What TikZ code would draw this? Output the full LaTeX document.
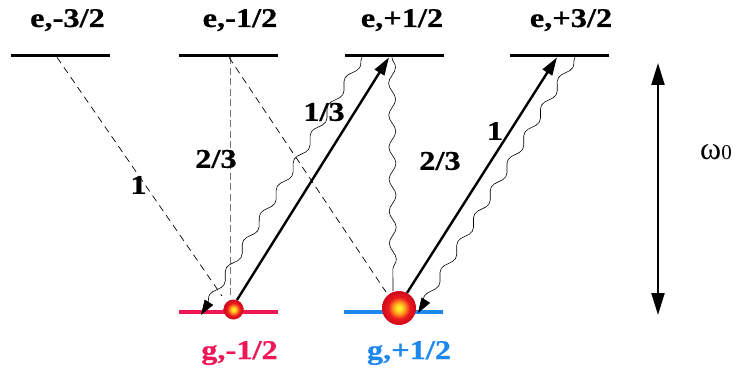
\documentclass[tikz,border=0pt]{standalone}
\usepackage{fontspec}
\setmainfont{Liberation Serif}[BoldFeatures={FakeBold=0.6}]
\usetikzlibrary{arrows.meta,decorations.pathmorphing}
\definecolor{gred}{RGB}{238,24,86}
\definecolor{gblue}{RGB}{30,136,238}
\definecolor{sphY}{RGB}{255,236,40}
\definecolor{sphO}{RGB}{255,150,30}
\definecolor{sphR}{RGB}{235,25,30}
\definecolor{sphD}{RGB}{210,12,28}
\pgfdeclareradialshading{sph}{\pgfpoint{0bp}{0bp}}{color(0bp)=(sphY); color(3bp)=(sphY); color(9bp)=(sphO); color(16bp)=(sphR); color(23bp)=(sphD); color(50bp)=(sphD)}
\newcommand{\lblx}[1]{\scalebox{1.2}[1]{#1}}
\tikzset{
  elev/.style={fill=black, minimum width=99pt, minimum height=3.3pt, inner sep=0pt},
  glev/.style={minimum width=99pt, minimum height=3.2pt, inner sep=0pt},
  lab/.style={inner sep=0pt, font=\fontsize{27}{31}\selectfont\bfseries},
  frac/.style={inner sep=0pt, font=\fontsize{27}{31}\selectfont\bfseries},
  ball/.style={circle, inner sep=0pt, shading=sph},
  pump/.style={line width=2.4pt, -{Triangle[length=18pt,width=11pt]}},
  dsh/.style={line width=0.7pt, dash pattern=on 7pt off 5pt},
  vdsh/.style={line width=0.8pt, draw=black!55, dash pattern=on 7pt off 3.5pt},
  wave/.style={line width=0.6pt, decorate, decoration={snake, amplitude=3.5pt, segment length=32pt, post length=6pt}},
  wavearr/.style={wave, -{Triangle[length=15pt,width=10pt]}},
}
\begin{document}
\begin{tikzpicture}[x=1pt,y=-1pt]
\useasboundingbox (0,0) rectangle (741,374);
% upper levels
\node[elev] (em32) at (60.5,55.5) {};
\node[elev] (em12) at (228,55.5) {};
\node[elev] (ep12) at (394,55.5) {};
\node[elev] (ep32) at (559.5,55.5) {};
% lower levels
\node[glev, fill=gred] (gm12) at (228,312) {};
\node[glev, fill=gblue] (gp12) at (393.5,312) {};
% level labels
\node[lab, anchor=base] (tem32) at (67.5,27) {\lblx{e,-3/2}};
\node[lab, anchor=base] (tem12) at (240,27) {\lblx{e,-1/2}};
\node[lab, anchor=base] (tep12) at (402,27) {\lblx{e,+1/2}};
\node[lab, anchor=base] (tep32) at (571,27) {\lblx{e,+3/2}};
\node[lab, anchor=base, text=gred] (tgm12) at (239.5,359) {\lblx{g,-1/2}};
\node[lab, anchor=base, text=gblue] (tgp12) at (409,359) {\lblx{g,+1/2}};
% dashed decay lines
\draw[dsh] ([xshift=-3.5pt]em32.south) -- (222,296);
\draw[vdsh] ([xshift=2pt]em12.south) -- (230,298);
\draw[dsh] ([xshift=1pt]em12.south) -- (386,292);
% spheres
\node[ball, minimum size=20pt] (ss) at (233.5,309.5) {};
\node[ball, minimum size=34pt] (bs) at (399,308) {};
% spontaneous emission (wavy)
\draw[wavearr] ([xshift=-32pt]ep12.south) -- ([xshift=-27pt,yshift=-3pt]gm12.center);
\draw[wave] ([xshift=-2pt]ep12.south) -- ([xshift=-6pt]bs.north);
\draw[wavearr] ([xshift=15.5pt]ep32.south) -- ([xshift=24.5pt,yshift=-1pt]gp12.center);
% pump transitions
\draw[pump] (ss.70) -- ([xshift=-5pt]ep12.south);
\draw[pump] (bs.62) -- ([xshift=-2.5pt]ep32.south);
% Clebsch-Gordan labels
\node[frac] (c1) at (138.5,185) {\lblx{1}};
\node[frac] (c2) at (216,159) {\lblx{2/3}};
\node[frac] (c3) at (324,112) {\lblx{1/3}};
\node[frac] (c4) at (440,161) {\lblx{2/3}};
\node[frac] (c5) at (495,131) {\lblx{1}};
% omega_0 arrow
\coordinate (wt) at (658,63);
\coordinate (wb) at (658,315);
\draw[line width=2.2pt, {Triangle[length=22pt,width=13pt]}-{Triangle[length=22pt,width=13pt]}] (wt) -- (wb);
\node[inner sep=0pt, font=\fontsize{32}{36}\selectfont] (om) at (716,152) {ω\raisebox{-0.5pt}{\fontsize{21}{24}\selectfont 0}};
\end{tikzpicture}
\end{document}
